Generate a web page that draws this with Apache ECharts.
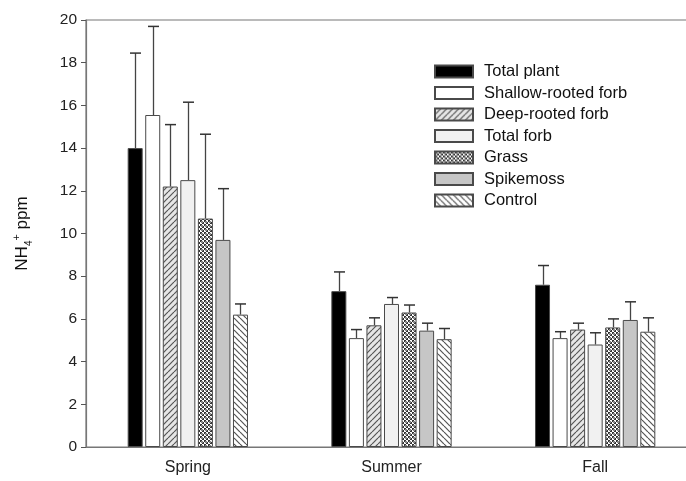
<!DOCTYPE html>
<html><head><meta charset="utf-8">
<script src="https://cdn.jsdelivr.net/npm/echarts@6/dist/echarts.min.js"></script>
<style>html,body{margin:0;padding:0;background:#fff}#c{width:686px;height:481px}</style>
</head><body><div id="c"></div>
<script>
const categories = ['Spring', 'Summer', 'Fall'];
const seriesNames = ['Total plant', 'Shallow-rooted forb', 'Deep-rooted forb', 'Total forb', 'Grass', 'Spikemoss', 'Control'];
const totalPlant = [14.0, 7.3, 7.6];
const shallowForb = [15.55, 5.1, 5.1];
const deepForb = [12.2, 5.7, 5.5];
const totalForb = [12.5, 6.7, 4.8];
const grass = [10.7, 6.3, 5.6];
const spikemoss = [9.7, 5.45, 5.95];
const control = [6.2, 5.05, 5.4];
const totalPlantSE = [4.45, 0.9, 0.9];
const shallowForbSE = [4.15, 0.4, 0.3];
const deepForbSE = [2.9, 0.35, 0.3];
const totalForbSE = [3.65, 0.3, 0.55];
const grassSE = [3.95, 0.35, 0.4];
const spikemossSE = [2.4, 0.35, 0.85];
const controlSE = [0.5, 0.5, 0.65];
const yTicks = [0, 2, 4, 6, 8, 10, 12, 14, 16, 18, 20];

const means = [totalPlant, shallowForb, deepForb, totalForb, grass, spikemoss, control];
const ses = [totalPlantSE, shallowForbSE, deepForbSE, totalForbSE, grassSE, spikemossSE, controlSE];

function pattern(kind) {
  const s = 6;
  const cv = document.createElement('canvas');
  cv.width = s; cv.height = s;
  const g = cv.getContext('2d');
  if (kind === 'deep') {
    g.fillStyle = '#e6e6e6'; g.fillRect(0, 0, s, s);
    g.strokeStyle = '#555'; g.lineWidth = 1.2;
    for (let k = -1; k <= 1; k++) { g.beginPath(); g.moveTo(k * s, s); g.lineTo(k * s + s, 0); g.stroke(); }
  } else if (kind === 'control') {
    g.fillStyle = '#ffffff'; g.fillRect(0, 0, s, s);
    g.strokeStyle = '#555'; g.lineWidth = 1.2;
    for (let k = -1; k <= 1; k++) { g.beginPath(); g.moveTo(k * s, 0); g.lineTo(k * s + s, s); g.stroke(); }
  } else {
    const t = 4;
    cv.width = t; cv.height = t;
    g.fillStyle = '#ffffff'; g.fillRect(0, 0, t, t);
    g.fillStyle = '#333';
    g.fillRect(0, 0, 2, 2); g.fillRect(2, 2, 2, 2);
    g.fillStyle = '#888';
    g.fillRect(1, 1, 2, 2);
  }
  return { image: cv, repeat: 'repeat' };
}

const fills = ['#000000', '#ffffff', pattern('deep'), '#f1f1f1', pattern('grass'), '#c6c6c6', pattern('control')];
const BAR_W = 15, GAP = 2.55;

const series = [];
seriesNames.forEach((name, i) => {
  series.push({
    name: name, type: 'bar', data: means[i], barWidth: BAR_W, barGap: '17%', barCategoryGap: '40%',
    itemStyle: { color: fills[i], borderColor: '#4a4a4a', borderWidth: 1 },
    emphasis: { disabled: true }
  });
});
seriesNames.forEach((name, i) => {
  series.push({
    type: 'custom', name: name + ' SE', silent: true, z: 1,
    data: categories.map((c, j) => [j, means[i][j], means[i][j] + ses[i][j]]),
    renderItem: function (params, api) {
      const off = (i - 3) * (BAR_W + GAP);
      const p0 = api.coord([api.value(0), api.value(1)]);
      const p1 = api.coord([api.value(0), api.value(2)]);
      const x = Math.round(p0[0] + off) + 0.5;
      return {
        type: 'group', children: [
          { type: 'line', shape: { x1: x, y1: p0[1], x2: x, y2: p1[1] }, style: { stroke: '#444', lineWidth: 1.3 } },
          { type: 'line', shape: { x1: x - 5.5, y1: p1[1], x2: x + 5.5, y2: p1[1] }, style: { stroke: '#333', lineWidth: 1.5 } }
        ]
      };
    }
  });
});

const chart = echarts.init(document.getElementById('c'), null, { renderer: 'canvas' });
chart.setOption({
  animation: false,
  backgroundColor: '#fff',
  textStyle: { fontFamily: 'Liberation Sans, Arial, sans-serif' },
  grid: { left: 86, top: 20, height: 427, width: 611, outerBoundsMode: 'none', containLabel: false, show: true, borderColor: '#777', borderWidth: 1.2 },
  legend: {
    orient: 'vertical', left: 429, top: 57, itemWidth: 38, itemHeight: 12, itemGap: 2.5, icon: 'rect',
    data: seriesNames, selectedMode: false,
    textStyle: { fontSize: 16.5, lineHeight: 19, color: '#111', fontFamily: 'Liberation Sans, Arial, sans-serif', padding: [0, 0, 0, 6] }
  },
  xAxis: {
    type: 'category', data: categories,
    axisLine: { lineStyle: { color: '#777', width: 1.2 } },
    axisTick: { alignWithLabel: true, length: 5, lineStyle: { color: '#555' } },
    axisLabel: { fontSize: 16, color: '#222', margin: 13 }
  },
  yAxis: {
    type: 'value', min: yTicks[0], max: yTicks[yTicks.length - 1], interval: 2,
    name: '{a|NH}{s|4}{p|+}{a| ppm}', nameLocation: 'middle', nameRotate: 90, nameGap: 52,
    nameTextStyle: {
      rich: {
        a: { fontSize: 17, color: '#111', fontFamily: 'Liberation Sans, Arial, sans-serif' },
        s: { fontSize: 10, color: '#111', verticalAlign: 'bottom', padding: [8, 0, 0, 0] },
        p: { fontSize: 11, color: '#111', padding: [0, 0, 12, 0] }
      }
    },
    axisLine: { show: true, lineStyle: { color: '#777', width: 1.2 } },
    axisTick: { show: true, length: 5, lineStyle: { color: '#555' } },
    axisLabel: { fontSize: 15.5, color: '#222', margin: 9 },
    splitLine: { show: false }
  },
  series: series
});
</script></body></html>
